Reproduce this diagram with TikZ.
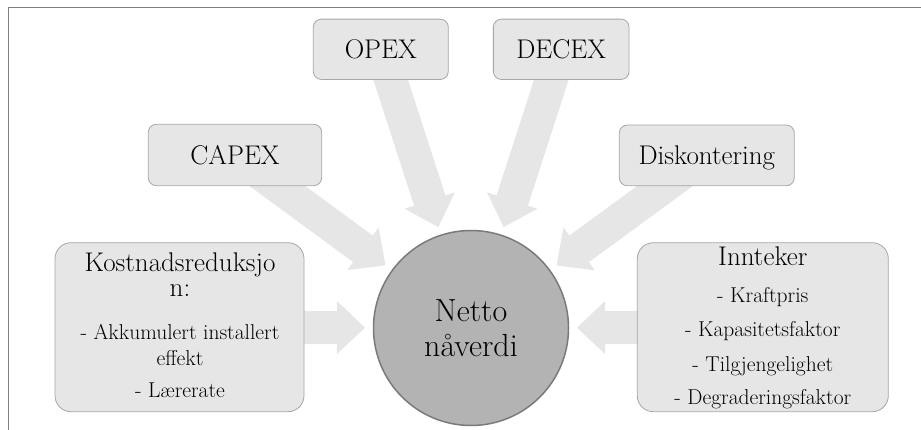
\documentclass[tikz,border=0pt]{standalone}
\usepackage{fontspec}
\usetikzlibrary{arrows.meta,calc}
\definecolor{boxfill}{HTML}{E6E6E6}
\definecolor{boxline}{HTML}{A6A6A6}
\definecolor{arrowfill}{HTML}{E6E6E6}
\definecolor{circfill}{HTML}{B3B3B3}
\definecolor{circline}{HTML}{7A7A7A}
\definecolor{frameline}{HTML}{808080}
\pgfdeclarelayer{bg}
\pgfsetlayers{bg,main}
\begin{document}
\begin{tikzpicture}[x=1pt,y=-1pt,
  smallbox/.style={draw=boxline, fill=boxfill, rounded corners=8pt, line width=0.8pt, inner sep=0pt,
    text height=18.5pt, text depth=0pt, font=\fontsize{27}{30}\selectfont},
  bigbox/.style={draw=boxline, fill=boxfill, rounded corners=16pt, line width=0.8pt, inner sep=0pt},
  headtext/.style={anchor=base, inner sep=0pt, font=\fontsize{27}{30}\selectfont},
  itemtext/.style={anchor=base, inner sep=0pt, font=\fontsize{21.5}{24}\selectfont},
  blockarrow/.style={draw=arrowfill, line width=33pt, -{Triangle[width=53pt,length=28pt,line width=0pt]}},
  frameline/.style={draw=frameline, line width=1pt}]
\useasboundingbox (0,0) rectangle (921,430);
\draw[frameline] (8,430) -- (8,8) -- (921,8);

\node[smallbox, minimum width=135pt, minimum height=60.3pt] (opex) at (380.8,49.3) {OPEX};
\node[smallbox, minimum width=135.7pt, minimum height=60.3pt] (decex) at (561.2,49.3) {DECEX};
\node[smallbox, minimum width=173.4pt, minimum height=61.4pt] (capex) at (235,155) {CAPEX};
\node[smallbox, minimum width=175pt, minimum height=60.7pt] (disk) at (706.8,155.4) {Diskontering};
\node[bigbox, minimum width=249pt, minimum height=169pt] (kost) at (179.5,327.2) {};
\node[bigbox, minimum width=251pt, minimum height=169pt] (innt) at (762.8,327.2) {};
\node[circle, draw=circline, fill=circfill, line width=1.5pt, minimum size=195pt, inner sep=0pt,
  align=center, font=\fontsize{32}{35}\selectfont] (npv) at (471,328) {Netto\\nåverdi};

\node[inner sep=0pt, align=center, font=\fontsize{27}{25}\selectfont] (k1) at (180,274.5) {Kostnadsreduksjo\\n:};
\node[itemtext] (k3) at (180,339.3) {- Akkumulert installert};
\node[itemtext] (k4) at (180,365) {effekt};
\node[itemtext] (k5) at (180,397.7) {- Lærerate};

\node[headtext] (i1) at (762.8,266) {Innteker};
\node[itemtext] (i2) at (762.8,302.7) {- Kraftpris};
\node[itemtext] (i3) at (762.8,336.7) {- Kapasitetsfaktor};
\node[itemtext] (i4) at (762.8,371.7) {- Tilgjengelighet};
\node[itemtext] (i5) at (762.8,404) {- Degraderingsfaktor};

\begin{pgfonlayer}{bg}
\foreach \n in {kost,capex,opex,decex,disk,innt}
  \draw[blockarrow] (\n.center) -- ($(npv.center)!106pt!(\n.center)$);
\end{pgfonlayer}
\end{tikzpicture}
\end{document}
